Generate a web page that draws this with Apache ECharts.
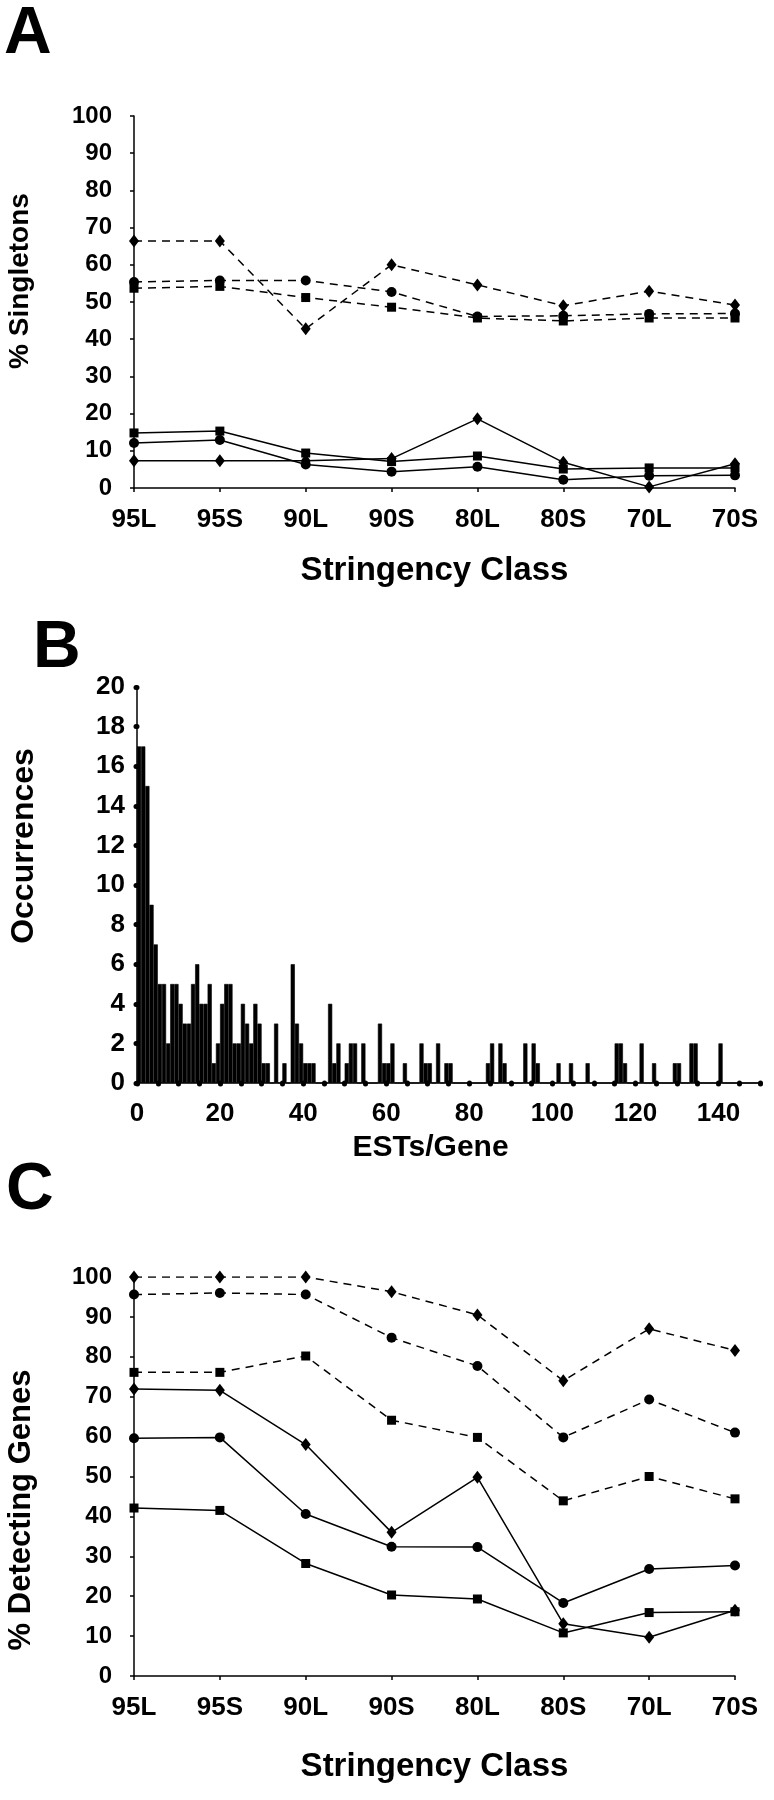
<!DOCTYPE html>
<html><head><meta charset="utf-8">
<script src="https://cdn.jsdelivr.net/npm/echarts@6/dist/echarts.min.js"></script>
<style>html,body{margin:0;padding:0;background:#fff}#c{width:774px;height:1800px}</style>
</head><body><div id="c"></div>
<script>
// ---------- data ----------
const stringencyClasses = ['95L','95S','90L','90S','80L','80S','70L','70S'];

// Panel A: % Singletons
const singletonsDashedDiamond = [66.4, 66.4, 42.8, 60.0, 54.6, 49.0, 52.9, 49.2];
const singletonsDashedCircle  = [55.4, 55.8, 55.8, 52.7, 46.1, 46.3, 46.8, 46.9];
const singletonsDashedSquare  = [53.7, 54.2, 51.2, 48.6, 45.7, 44.9, 45.7, 45.7];
const singletonsSolidDiamond  = [7.3, 7.3, 7.3, 7.9, 18.6, 6.9, 0.3, 6.5];
const singletonsSolidCircle   = [12.1, 12.9, 6.3, 4.4, 5.7, 2.2, 3.3, 3.4];
const singletonsSolidSquare   = [14.8, 15.3, 9.4, 7.1, 8.6, 5.1, 5.4, 5.4];

// Panel B: occurrences per ESTs/Gene bin (bins 1..150)
const occurrences = [
  17,17,15,9,7,5,5,2,5,5,
  4,3,3,5,6,4,4,5,1,2,
  4,5,5,2,2,4,3,2,4,3,
  1,1,0,3,0,1,0,6,3,2,
  1,1,1,0,0,0,4,1,2,0,
  1,2,2,0,2,0,0,0,3,1,
  1,2,0,0,1,0,0,0,2,1,
  1,0,2,0,1,1,0,0,0,0,
  0,0,0,0,1,2,0,2,1,0,
  0,0,0,2,0,2,1,0,0,0,
  0,1,0,0,1,0,0,0,1,0,
  0,0,0,0,0,2,2,1,0,0,
  0,2,0,0,1,0,0,0,0,1,
  1,0,0,2,2,0,0,0,0,0,
  2,0,0,0,0,0,0,0,0,0
];
const estBins = occurrences.map((_, i) => String(i + 1));

// Panel C: % Detecting Genes
const detectDashedDiamond = [100, 100, 100, 96.3, 90.5, 74.0, 87.0, 81.6];
const detectDashedCircle  = [95.6, 96.0, 95.6, 84.8, 77.7, 59.8, 69.3, 61.0];
const detectDashedSquare  = [76.1, 76.1, 80.2, 64.1, 59.8, 43.9, 50.0, 44.4];
const detectSolidDiamond  = [71.9, 71.6, 58.0, 36.0, 49.8, 13.1, 9.7, 16.5];
const detectSolidCircle   = [59.6, 59.8, 40.6, 32.4, 32.3, 18.3, 26.8, 27.7];
const detectSolidSquare   = [42.1, 41.5, 28.2, 20.3, 19.3, 10.8, 15.9, 16.1];

// ---------- styling ----------
const FONT = '"Liberation Sans", Arial, sans-serif';
const NARROW = '"Liberation Sans Narrow", "Liberation Sans", Arial, sans-serif';
const BLK = '#000';
const axisLine = { show: true, lineStyle: { color: BLK, width: 1.5 } };

function lineSeries(data, dashed, symbol, gi) {
  const size = symbol === 'diamond' ? [10, 13] : (symbol === 'circle' ? 10 : 9);
  return {
    type: 'line', xAxisIndex: gi === 0 ? 0 : 3, yAxisIndex: gi === 0 ? 0 : 2,
    data: data, symbol: symbol, symbolSize: size, showSymbol: true,
    lineStyle: { color: BLK, width: 1.5, type: dashed ? [8, 6] : 'solid' },
    itemStyle: { color: BLK }, silent: true, animation: false, z: 3
  };
}

function catAxis(gi, name, nameGap) {
  return {
    type: 'category', gridIndex: gi, data: stringencyClasses, boundaryGap: false,
    axisLine: axisLine,
    axisTick: { show: true, length: 4, lineStyle: { color: BLK, width: 1.5 } },
    axisLabel: { color: BLK, fontFamily: NARROW, fontWeight: 'bold', fontSize: 26, margin: 19 },
    name: name, nameLocation: 'middle', nameGap: nameGap,
    nameTextStyle: { color: BLK, fontFamily: FONT, fontWeight: 'bold', fontSize: 33 }
  };
}
function pctAxis(gi) {
  return {
    type: 'value', gridIndex: gi, min: 0, max: 100, interval: 10,
    axisLine: axisLine, splitLine: { show: false },
    axisTick: { show: true, length: 4, lineStyle: { color: BLK, width: 1.5 } },
    axisLabel: { color: BLK, fontFamily: NARROW, fontWeight: 'bold', fontSize: 24, margin: 22 }
  };
}

const dotTick = { show: true, length: 1, lineStyle: { color: BLK, width: 5, cap: 'round' } };
function yTitle(text, x, y, size) {
  return {
    type: 'text', x: x, y: y, rotation: Math.PI / 2, silent: true,
    style: { text: text, font: 'bold ' + size + 'px ' + FONT, fill: BLK, align: 'center', verticalAlign: 'middle' }
  };
}

const option = {
  backgroundColor: '#fff',
  animation: false,
  grid: [
    { left: 134, top: 116, width: 601, height: 372 },
    { left: 137, top: 687, width: 623, height: 396 },
    { left: 134, top: 1277, width: 601, height: 399 }
  ],
  xAxis: [
    catAxis(0, 'Stringency Class', 66),
    {
      type: 'category', gridIndex: 1, data: estBins, boundaryGap: true, show: false
    },
    {
      type: 'value', gridIndex: 1, position: 'bottom', min: 0, max: 150, interval: 20,
      axisLine: axisLine, splitLine: { show: false },
      axisTick: dotTick,
      minorTick: { show: true, splitNumber: 4, length: 1, lineStyle: { color: BLK, width: 5, cap: 'round' } },
      axisLabel: { color: BLK, fontFamily: NARROW, fontWeight: 'bold', fontSize: 26, margin: 18, showMaxLabel: false },
      name: 'ESTs/Gene', nameLocation: 'middle', nameGap: 50,
      nameTextStyle: { color: BLK, fontFamily: FONT, fontWeight: 'bold', fontSize: 30, padding: [0, 36, 0, 0] }
    },
    catAxis(2, 'Stringency Class', 74)
  ],
  yAxis: [
    pctAxis(0),
    {
      type: 'value', gridIndex: 1, min: 0, max: 20, interval: 2,
      axisLine: axisLine, splitLine: { show: false },
      axisTick: dotTick,
      axisLabel: { color: BLK, fontFamily: NARROW, fontWeight: 'bold', fontSize: 26, margin: 12 }
    },
    pctAxis(2)
  ],
  series: [
    lineSeries(singletonsDashedDiamond, true, 'diamond', 0),
    lineSeries(singletonsDashedCircle, true, 'circle', 0),
    lineSeries(singletonsDashedSquare, true, 'rect', 0),
    lineSeries(singletonsSolidDiamond, false, 'diamond', 0),
    lineSeries(singletonsSolidCircle, false, 'circle', 0),
    lineSeries(singletonsSolidSquare, false, 'rect', 0),
    {
      type: 'bar', xAxisIndex: 1, yAxisIndex: 1, data: occurrences,
      barCategoryGap: '0%', barWidth: '100%',
      itemStyle: { color: BLK, borderColor: BLK, borderWidth: 0.6 }, silent: true, animation: false
    },
    lineSeries(detectDashedDiamond, true, 'diamond', 2),
    lineSeries(detectDashedCircle, true, 'circle', 2),
    lineSeries(detectDashedSquare, true, 'rect', 2),
    lineSeries(detectSolidDiamond, false, 'diamond', 2),
    lineSeries(detectSolidCircle, false, 'circle', 2),
    lineSeries(detectSolidSquare, false, 'rect', 2)
  ],
  graphic: [
    { type: 'text', left: 4, top: 2, silent: true, style: { text: 'A', font: 'bold 66px ' + FONT, fill: BLK } },
    { type: 'text', left: 33, top: 616, silent: true, style: { text: 'B', font: 'bold 66px ' + FONT, fill: BLK } },
    { type: 'text', left: 6, top: 1158, silent: true, style: { text: 'C', font: 'bold 66px ' + FONT, fill: BLK } },
    yTitle('% Singletons', 20, 281, 28),
    yTitle('Occurrences', 24, 846, 32),
    yTitle('% Detecting Genes', 21, 1510, 31)
  ]
};
const chart = echarts.init(document.getElementById('c'), null, { renderer: 'canvas', width: 774, height: 1800 });
chart.setOption(option);
</script></body></html>
